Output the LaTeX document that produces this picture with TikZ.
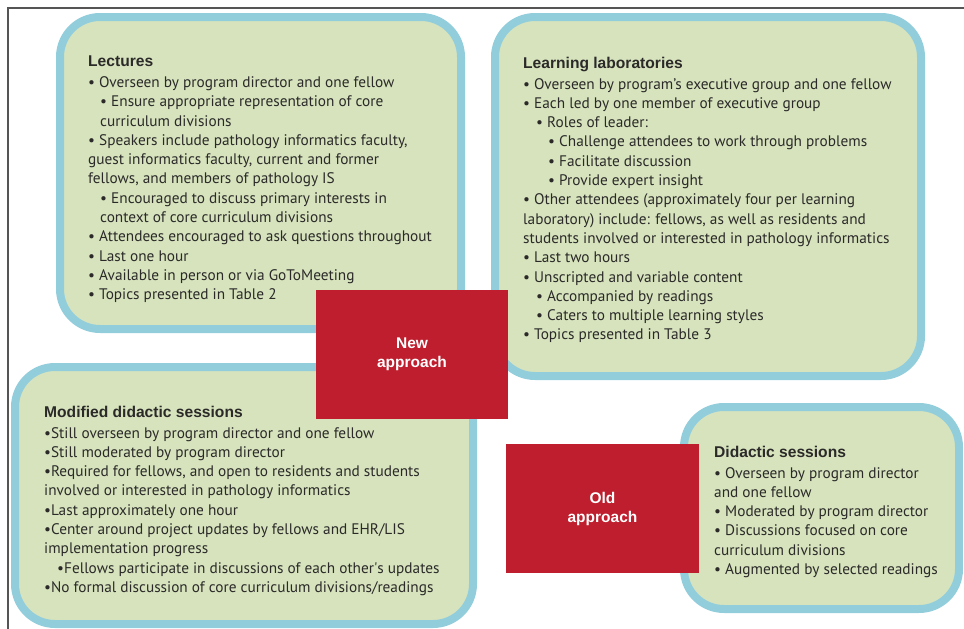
\documentclass[tikz,border=0pt]{standalone}
\usepackage{fontspec}
\setmainfont{PT Sans}
\newfontfamily\headfont{Liberation Sans}
\definecolor{panelgreen}{HTML}{D6E3BD}
\definecolor{panelblue}{HTML}{92CDDC}
\definecolor{approachred}{HTML}{BE1E2D}
\definecolor{textgray}{HTML}{2B2A29}
\definecolor{framegray}{HTML}{555555}
\tikzset{panel/.style={draw=panelblue, line width=8pt, fill=panelgreen,
  rounded corners=40pt, inner sep=0pt},
  listtext/.style={anchor=north west, inner sep=0pt, align=left,
  text=textgray, font=\fontsize{15.3}{19.3}\selectfont},
  approach/.style={fill=approachred, text=white, inner sep=0pt, align=center,
  font=\headfont\bfseries\fontsize{15.5}{19}\selectfont}}
\newcommand{\head}[1]{{\headfont\bfseries\fontsize{15.6}{19.3}\selectfont #1}}
\newcommand{\lvl}[1]{\hspace*{#1pt}}
\begin{document}
\begin{tikzpicture}[x=1pt,y=-1pt]
  \useasboundingbox (0,0) rectangle (964,629);
  \draw[framegray, line width=1.2pt] (8,629) -- (8,8) -- (964,8);
  % the four panels
  \node[panel, minimum width=401pt, minimum height=312pt] (lect) at (260.5,173) {};
  \node[panel, minimum width=426pt, minimum height=359pt] (labs) at (708,196.5) {};
  \node[panel, minimum width=458pt, minimum height=257pt] (modif) at (244,495.5) {};
  \node[panel, minimum width=275pt, minimum height=202pt] (didac) at (821.5,508) {};
  \node[listtext] (lecttxt) at ([xshift=32pt,yshift=-43pt]lect.north west)
    {\head{Lectures}\\[1.2pt]
     \textbullet{} Overseen by program director and one fellow\\
     \lvl{12}\textbullet{} Ensure appropriate representation of core\\
     \lvl{12}curriculum divisions\\
     \textbullet{} Speakers include pathology informatics faculty,\\
     guest informatics faculty, current and former\\
     fellows, and members of pathology IS\\
     \lvl{12}\textbullet{} Encouraged to discuss primary interests in\\
     \lvl{12}context of core curriculum divisions\\
     \textbullet{} Attendees encouraged to ask questions throughout\\
     \textbullet{} Last one hour\\
     \textbullet{} Available in person or via GoToMeeting\\
     \textbullet{} Topics presented in Table 2};
  \node[listtext] (labstxt) at ([xshift=32pt,yshift=-44pt]labs.north west)
    {\head{Learning laboratories}\\[1.2pt]
     \textbullet{} Overseen by program’s executive group and one fellow\\
     \textbullet{} Each led by one member of executive group\\
     \lvl{13}\textbullet{} Roles of leader:\\
     \lvl{25}\textbullet{} Challenge attendees to work through problems\\
     \lvl{25}\textbullet{} Facilitate discussion\\
     \lvl{25}\textbullet{} Provide expert insight\\
     \textbullet{} Other attendees (approximately four per learning\\
     laboratory) include: fellows, as well as residents and\\
     students involved or interested in pathology informatics\\
     \textbullet{} Last two hours\\
     \textbullet{} Unscripted and variable content\\
     \lvl{13}\textbullet{} Accompanied by readings\\
     \lvl{13}\textbullet{} Caters to multiple learning styles\\
     \textbullet{} Topics presented in Table 3};
  \node[listtext] (modiftxt) at ([xshift=33pt,yshift=-43pt]modif.north west)
    {\head{Modified didactic sessions}\\[1.2pt]
     \textbullet Still overseen by program director and one fellow\\
     \textbullet Still moderated by program director\\
     \textbullet Required for fellows, and open to residents and students\\
     involved or interested in pathology informatics\\
     \textbullet Last approximately one hour\\
     \textbullet Center around project updates by fellows and EHR/LIS\\
     implementation progress\\
     \lvl{13}\textbullet Fellows participate in discussions of each other\textquotesingle s updates\\
     \textbullet No formal discussion of core curriculum divisions/readings};
  \node[listtext] (didactxt) at ([xshift=34pt,yshift=-43pt]didac.north west)
    {\head{Didactic sessions}\\[1.2pt]
     \textbullet{} Overseen by program director\\
     and one fellow\\
     \textbullet{} Moderated by program director\\
     \textbullet{} Discussions focused on core\\
     curriculum divisions\\
     \textbullet{} Augmented by selected readings};
  % red labels on top
  \node[approach, minimum width=192pt, minimum height=129pt] (new) at (412,354.5)
    {New\\approach};
  \node[approach, minimum width=193pt, minimum height=129pt] (old) at (602.5,508.5)
    {Old\\approach};
\end{tikzpicture}
\end{document}
